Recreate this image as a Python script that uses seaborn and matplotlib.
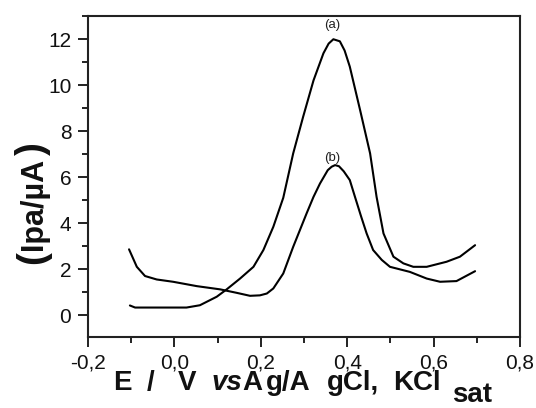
import matplotlib
matplotlib.use("Agg")
import matplotlib.pyplot as plt
from matplotlib.ticker import MultipleLocator, FuncFormatter
import pandas as pd
import seaborn as sns

# -- Data ---------------------------------------------------------------------

curve_a_x = [-0.103, -0.091, -0.05, 0.0, 0.028, 0.059, 0.098, 0.121, 0.152, 0.183,
             0.206, 0.229, 0.252, 0.275, 0.298, 0.322, 0.345, 0.357, 0.368, 0.383,
             0.394, 0.406, 0.43, 0.453, 0.468, 0.484, 0.507, 0.53, 0.553, 0.584,
             0.63, 0.661, 0.696]
curve_a_y = [0.42, 0.33, 0.33, 0.33, 0.33, 0.43, 0.80, 1.12, 1.59, 2.10,
             2.83, 3.84, 5.10, 7.03, 8.62, 10.2, 11.38, 11.8, 11.99, 11.9,
             11.5, 10.8, 8.9, 7.03, 5.14, 3.55, 2.54, 2.25, 2.10, 2.10,
             2.32, 2.54, 3.04]

curve_b_x = [-0.105, -0.087, -0.068, -0.041, -0.003, 0.052, 0.106, 0.144, 0.175, 0.198,
             0.214, 0.229, 0.252, 0.275, 0.306, 0.322, 0.337, 0.355, 0.364, 0.372,
             0.381, 0.392, 0.406, 0.418, 0.432, 0.445, 0.46, 0.48, 0.499, 0.545,
             0.584, 0.615, 0.653, 0.696]
curve_b_y = [2.86, 2.10, 1.70, 1.55, 1.45, 1.26, 1.12, 0.97, 0.84, 0.86,
             0.94, 1.16, 1.81, 2.97, 4.42, 5.14, 5.72, 6.3, 6.45, 6.52,
             6.47, 6.25, 5.87, 5.14, 4.3, 3.55, 2.83, 2.4, 2.10, 1.88,
             1.59, 1.45, 1.48, 1.91]

curve_labels = ["(a)", "(b)"]
label_x = [0.366, 0.366]
label_y = [12.6, 6.85]

df = pd.concat([
    pd.DataFrame({"E": curve_a_x, "I": curve_a_y, "curve": "a"}),
    pd.DataFrame({"E": curve_b_x, "I": curve_b_y, "curve": "b"}),
], ignore_index=True)

# x-axis title pieces: (text, left pixel, baseline pixel, italic)
xlabel_parts = [
    ("E", 113, 390, False),
    ("/", 147, 390, False),
    ("V", 178, 390, False),
    ("vs", 212, 390, True),
    ("A", 242, 390, False),
    ("g/A", 266, 390, False),
    ("gCl,", 327, 390, False),
    ("KCl", 393, 390, False),
    ("sat", 452, 402, False),
]

W, H = 536, 408

# -- Style ---------------------------------------------------------------------

sns.set_theme(style="ticks")
plt.rcParams["font.family"] = ["Liberation Sans", "DejaVu Sans"]

fig = plt.figure(figsize=(W / 100, H / 100), dpi=100)
ax = fig.add_axes([88 / W, 1 - 337 / H, (520 - 88) / W, (337 - 16) / H])

sns.lineplot(data=df, x="E", y="I", units="curve", estimator=None, sort=False,
             color="black", lw=1.5, ax=ax, legend=False)

for txt, x, y in zip(curve_labels, label_x, label_y):
    ax.text(x, y, txt, ha="center", va="center", fontsize=9.5, color="#222222")

ax.set_xlim(-0.2, 0.8)
ax.set_ylim(-0.95, 13)
ax.xaxis.set_major_locator(MultipleLocator(0.2))
ax.xaxis.set_minor_locator(MultipleLocator(0.1))
ax.yaxis.set_minor_locator(MultipleLocator(1))
ax.set_yticks([0, 2, 4, 6, 8, 10, 12])
ax.xaxis.set_major_formatter(FuncFormatter(lambda v, p: f"{v:.1f}".replace(".", ",")))
ax.tick_params(which="major", direction="out", length=7, width=1.3, labelsize=15,
               pad=5, colors="#111111")
ax.tick_params(which="minor", direction="out", length=4, width=1.3, colors="#111111")
for sp in ax.spines.values():
    sp.set_visible(True)
    sp.set_linewidth(1.5)
    sp.set_color("#222222")
ax.set_xlabel("")
ax.set_ylabel("")

# y-axis title, with the larger brackets of the reference
fig.text(34 / W, 1 - 204 / H, "Ipa/\u00b5A", rotation=90, ha="center", va="center",
         fontsize=22, fontweight="bold", color="#111111")
fig.text(33 / W, 1 - 258 / H, "(", rotation=90, ha="center", va="center",
         fontsize=28, fontweight="bold", color="#111111")
fig.text(33 / W, 1 - 149 / H, ")", rotation=90, ha="center", va="center",
         fontsize=28, fontweight="bold", color="#111111")

# x-axis title
for txt, px, py, italic in xlabel_parts:
    fig.text(px / W, 1 - py / H, txt, ha="left", va="baseline", fontsize=20,
             fontweight="bold", fontstyle="italic" if italic else "normal",
             color="#111111")

fig.savefig("out.png", dpi=100)
